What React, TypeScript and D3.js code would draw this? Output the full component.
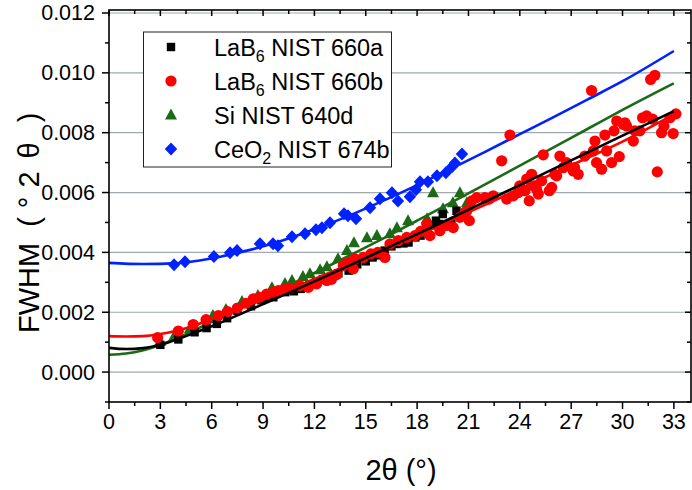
import React from "react";
import * as d3 from "d3";

// ---------- data ----------
const xTicks = [0, 3, 6, 9, 12, 15, 18, 21, 24, 27, 30, 33];
const yTicks = [0, 0.002, 0.004, 0.006, 0.008, 0.01, 0.012];

const seriesNames = ["LaB6 NIST 660a", "LaB6 NIST 660b", "Si NIST 640d", "CeO2 NIST 674b"];

const lab660a: [number, number][] = [
  [3.0, 0.00091], [4.05, 0.00109], [5.0, 0.00133], [5.7, 0.00147], [6.3, 0.00161], [6.9, 0.0018],
  [7.5, 0.00205], [8.3, 0.0022], [8.9, 0.0024], [9.1, 0.00245], [9.6, 0.0025], [10.3, 0.00267],
  [10.8, 0.0027], [11.2, 0.00278], [11.7, 0.0029], [12.1, 0.003], [12.5, 0.0031], [12.9, 0.00317],
  [13.4, 0.0033], [14.0, 0.00339], [14.5, 0.0036], [15.0, 0.0037], [15.4, 0.00383], [15.8, 0.0039],
  [16.1, 0.00406], [16.5, 0.0042], [16.8, 0.00428], [17.2, 0.0043], [17.5, 0.00433], [17.9, 0.0045],
  [18.2, 0.00456], [18.6, 0.00478], [18.9, 0.0049], [19.1, 0.00506], [19.3, 0.00495], [19.5, 0.00528],
  [20.0, 0.00495], [20.3, 0.00539],
];

const lab660b: [number, number][] = [
  [2.84, 0.00115], [4.05, 0.00137], [4.92, 0.00159], [5.67, 0.00175], [6.39, 0.00189], [6.93, 0.00202],
  [7.5, 0.00214], [8.0, 0.0023], [8.43, 0.00245], [8.8, 0.0025], [9.21, 0.00261], [9.6, 0.00268],
  [9.89, 0.00272], [10.2, 0.00276], [10.57, 0.00281], [11.16, 0.00289], [11.64, 0.00283], [12.13, 0.00295],
  [12.72, 0.00306], [13.0, 0.0031], [13.3, 0.00326], [13.69, 0.00356], [13.98, 0.00367], [14.27, 0.00345],
  [14.37, 0.00378], [14.85, 0.00383], [15.3, 0.00395], [15.7, 0.004], [16.12, 0.00383], [16.41, 0.00428],
  [16.9, 0.00439], [17.39, 0.0045], [17.87, 0.00456], [18.2, 0.0047], [18.56, 0.00495], [18.75, 0.00456],
  [19.33, 0.00472], [19.7, 0.0049], [20.11, 0.00483], [20.5, 0.00517], [20.79, 0.00533], [20.9, 0.00539],
  [21.05, 0.00506], [21.19, 0.00572], [21.48, 0.00583], [21.96, 0.00583], [22.2, 0.00578], [22.45, 0.00589],
  [22.94, 0.00706], [23.23, 0.00578], [23.42, 0.00792], [23.62, 0.00589], [23.91, 0.006], [23.99, 0.00622],
  [24.3, 0.00606], [24.4, 0.00645], [24.55, 0.00572], [24.69, 0.00661], [24.82, 0.00622], [24.98, 0.00611],
  [25.08, 0.00595], [25.27, 0.00639], [25.37, 0.00726], [25.72, 0.00606], [25.86, 0.00617], [26.05, 0.00661],
  [26.15, 0.00656], [26.34, 0.00722], [26.54, 0.00683], [26.73, 0.007], [27.12, 0.00672], [27.2, 0.00683],
  [27.41, 0.00661], [27.8, 0.00722], [28.19, 0.00941], [28.29, 0.00739], [28.39, 0.00772], [28.48, 0.007],
  [28.78, 0.00678], [28.97, 0.00792], [29.07, 0.00739], [29.36, 0.007], [29.5, 0.00806], [29.66, 0.00839],
  [29.81, 0.0072], [30.04, 0.00828], [30.14, 0.00833], [30.24, 0.00822], [30.63, 0.00772], [30.72, 0.00806],
  [31.01, 0.00806], [31.17, 0.0085], [31.41, 0.00856], [31.64, 0.00978], [31.76, 0.00845], [31.89, 0.00992],
  [32.03, 0.00669], [32.28, 0.008], [32.42, 0.00822], [32.77, 0.0085], [32.96, 0.00797], [33.12, 0.00863],
];

const si640d: [number, number][] = [
  [2.98, 0.00102], [3.8, 0.00119], [4.73, 0.00146], [6.07, 0.00189], [6.83, 0.00209], [7.77, 0.00236],
  [8.7, 0.00256], [9.52, 0.00282], [10.28, 0.00296], [10.69, 0.00306], [11.33, 0.00319], [11.74, 0.00329],
  [12.33, 0.00342], [12.73, 0.00352], [13.38, 0.00379], [13.9, 0.00406], [14.31, 0.00432], [15.07, 0.00449],
  [15.65, 0.00456], [16.41, 0.00462], [16.82, 0.00482], [17.47, 0.00506], [18.58, 0.00512], [18.93, 0.00599],
  [19.51, 0.00546], [20.09, 0.00566], [20.5, 0.00599], [20.91, 0.00566],
];

const ceo674b: [number, number][] = [
  [3.8, 0.00359], [4.44, 0.00369], [6.13, 0.00386], [7.07, 0.00399], [7.48, 0.00406], [8.82, 0.00429],
  [9.58, 0.00429], [9.87, 0.00422], [10.69, 0.00452], [11.45, 0.00462], [12.09, 0.00476], [12.44, 0.00482],
  [12.91, 0.00499], [13.73, 0.00529], [13.96, 0.00522], [14.43, 0.00512], [15.25, 0.00549], [15.83, 0.00579],
  [16.53, 0.00599], [16.88, 0.00572], [17.58, 0.00586], [17.93, 0.00609], [18.17, 0.00636], [18.63, 0.00636],
  [19.16, 0.00656], [19.68, 0.00666], [20.04, 0.00686], [20.21, 0.00699], [20.62, 0.00729],
];

// fitted curves
const fit660a: [number, number][] = [
  [0, 0.00081], [1, 0.00077], [2, 0.0008], [3, 0.00091], [4, 0.0011], [5, 0.00131], [6, 0.00153],
  [7, 0.00177], [8, 0.00202], [9, 0.00227], [10, 0.00252], [12, 0.00303], [14, 0.00355], [16, 0.00408],
  [18, 0.00461], [20, 0.00515], [22, 0.0057], [24, 0.00625], [26, 0.0068], [28, 0.00735], [30, 0.0079],
  [33, 0.00872],
];
const fit660b: [number, number][] = [
  [0, 0.0012], [1, 0.00119], [2, 0.0012], [3, 0.00127], [4, 0.00139], [5, 0.00156], [6, 0.00177],
  [7, 0.00198], [8, 0.0022], [9, 0.00242], [10, 0.00264], [12, 0.00311], [14, 0.00359], [16, 0.00408],
  [18, 0.00458], [20, 0.00508], [22, 0.0056], [24, 0.00612], [26, 0.00665], [28, 0.00717], [30, 0.0077],
  [33, 0.00861],
];
const fit640d: [number, number][] = [
  [0, 0.00058], [1, 0.00062], [2, 0.00073], [3, 0.00091], [4, 0.00114], [5, 0.0014], [6, 0.00168],
  [7, 0.00196], [8, 0.00223], [9, 0.0025], [10, 0.00276], [12, 0.00331], [14, 0.00388], [16, 0.00446],
  [18, 0.00506], [20, 0.00567], [22, 0.00628], [24, 0.0069], [26, 0.00752], [28, 0.00814], [30, 0.00876],
  [33, 0.00965],
];
const fit674b: [number, number][] = [
  [0, 0.00365], [2, 0.00361], [4, 0.00364], [6, 0.0038], [8, 0.00405], [10, 0.00437], [12, 0.00477],
  [14, 0.00522], [16, 0.00572], [18, 0.00625], [20, 0.0068], [22, 0.00737], [24, 0.00795], [26, 0.00853],
  [28, 0.00912], [30, 0.00972], [33, 0.01073],
];

// ---------- styling ----------
const W = 692;
const H = 490;
const M = { left: 109, right: 691, top: 10, bottom: 402 };
const FONT = "'Liberation Sans', Arial, Helvetica, sans-serif";
const BLACK = "#000000";
const RED = "#ff0000";
const GREEN = "#1c6a17";
const BLUE = "#0022ff";
const GRID = "#9ea8ad";

const x = d3.scaleLinear().domain([0, 34]).range([M.left, M.right]);
const y = d3.scaleLinear().domain([-0.001, 0.0121]).range([M.bottom, M.top]);

const line = d3
  .line<[number, number]>()
  .x((d) => x(d[0]))
  .y((d) => y(d[1]))
  .curve(d3.curveMonotoneX);

const Square = ({ cx, cy, c }: { cx: number; cy: number; c: string }) => (
  <rect x={cx - 4.2} y={cy - 4.2} width={8.4} height={8.4} fill={c} />
);
const Circle = ({ cx, cy, c }: { cx: number; cy: number; c: string }) => (
  <circle cx={cx} cy={cy} r={5.6} fill={c} />
);
const Tri = ({ cx, cy, c }: { cx: number; cy: number; c: string }) => (
  <path d={`M${cx},${cy - 6.5}L${cx + 6},${cy + 4.5}L${cx - 6},${cy + 4.5}Z`} fill={c} />
);
const Diamond = ({ cx, cy, c }: { cx: number; cy: number; c: string }) => (
  <path d={`M${cx},${cy - 6.5}L${cx + 6.2},${cy}L${cx},${cy + 6.5}L${cx - 6.2},${cy}Z`} fill={c} />
);

export default function App() {
  const xMinor = d3.range(1.5, 34, 3);
  const yMinor = d3.range(-1, 12.5, 2).map((v) => v / 1000);

  const legendRows = [
    { M: Square, c: BLACK, main: "LaB", sub: "6", rest: " NIST 660a" },
    { M: Circle, c: RED, main: "LaB", sub: "6", rest: " NIST 660b" },
    { M: Tri, c: GREEN, main: "Si NIST 640d", sub: "", rest: "" },
    { M: Diamond, c: BLUE, main: "CeO", sub: "2", rest: " NIST 674b" },
  ];

  return (
    <svg
      width={W}
      height={H}
      viewBox={`0 0 ${W} ${H}`}
      style={{ position: "absolute", left: 0, top: 0, background: "#fff" }}
      fontFamily={FONT}
    >
      <rect x={0} y={0} width={W} height={H} fill="#fff" />
      <defs>
        <clipPath id="plotclip">
          <rect x={M.left} y={M.top} width={M.right - M.left} height={M.bottom - M.top} />
        </clipPath>
      </defs>

      {/* grid */}
      {yTicks.map((t) => (
        <line key={"g" + t} x1={M.left} x2={M.right} y1={y(t)} y2={y(t)} stroke={GRID} strokeWidth={1.2} />
      ))}

      <g clipPath="url(#plotclip)">
        {ceo674b.map((d, i) => (
          <Diamond key={"d" + i} cx={x(d[0])} cy={y(d[1])} c={BLUE} />
        ))}
        <path d={line(fit674b) || ""} fill="none" stroke={BLUE} strokeWidth={2.6} />
        {si640d.map((d, i) => (
          <Tri key={"t" + i} cx={x(d[0])} cy={y(d[1])} c={GREEN} />
        ))}
        <path d={line(fit640d) || ""} fill="none" stroke={GREEN} strokeWidth={2.6} />
        {lab660a.map((d, i) => (
          <Square key={"s" + i} cx={x(d[0])} cy={y(d[1])} c={BLACK} />
        ))}
        {lab660b.map((d, i) => (
          <Circle key={"c" + i} cx={x(d[0])} cy={y(d[1])} c={RED} />
        ))}
        <path d={line(fit660b) || ""} fill="none" stroke={RED} strokeWidth={2.6} />
        <path d={line(fit660a) || ""} fill="none" stroke={BLACK} strokeWidth={2.6} />
      </g>

      {/* frame */}
      <rect
        x={M.left}
        y={M.top}
        width={M.right - M.left}
        height={M.bottom - M.top}
        fill="none"
        stroke="#000"
        strokeWidth={1.6}
      />

      {/* x ticks bottom (outward) and top (inward) */}
      {xTicks.map((t) => (
        <g key={"xt" + t}>
          <line x1={x(t)} x2={x(t)} y1={M.bottom} y2={M.bottom + 7} stroke="#000" strokeWidth={1.5} />
          <line x1={x(t)} x2={x(t)} y1={M.top} y2={M.top + 6} stroke="#000" strokeWidth={1.5} />
          <text x={x(t)} y={M.bottom + 27} fontSize={21.5} textAnchor="middle" fill="#000">
            {t}
          </text>
        </g>
      ))}
      {xMinor.map((t) => (
        <g key={"xm" + t}>
          <line x1={x(t)} x2={x(t)} y1={M.bottom} y2={M.bottom + 4} stroke="#000" strokeWidth={1.5} />
          <line x1={x(t)} x2={x(t)} y1={M.top} y2={M.top + 4} stroke="#000" strokeWidth={1.5} />
        </g>
      ))}

      {/* y ticks left (outward) and right (inward) */}
      {yTicks.map((t) => (
        <g key={"yt" + t}>
          <line x1={M.left - 7} x2={M.left} y1={y(t)} y2={y(t)} stroke="#000" strokeWidth={1.5} />
          <line x1={M.right - 6} x2={M.right} y1={y(t)} y2={y(t)} stroke="#000" strokeWidth={1.5} />
          <text x={M.left - 14} y={y(t) + 7.5} fontSize={21.5} textAnchor="end" fill="#000">
            {d3.format(".3f")(t)}
          </text>
        </g>
      ))}
      {yMinor.map((t) => (
        <g key={"ym" + t}>
          <line x1={M.left - 4} x2={M.left} y1={y(t)} y2={y(t)} stroke="#000" strokeWidth={1.5} />
          <line x1={M.right - 4} x2={M.right} y1={y(t)} y2={y(t)} stroke="#000" strokeWidth={1.5} />
        </g>
      ))}

      {/* axis titles */}
      <text transform={`translate(39, 333) rotate(-90)`} fontSize={29} textAnchor="start" fill="#000">
        <tspan>FWHM</tspan>
        <tspan dx={16}>(</tspan>
        <tspan dx={9}>°</tspan>
        <tspan dx={9}>2</tspan>
        <tspan dx={13}>θ</tspan>
        <tspan dx={20}>)</tspan>
      </text>
      <text x={401} y={480} fontSize={29} textAnchor="middle" fill="#000">
        2θ (°)
      </text>

      {/* legend */}
      <rect x={143.5} y={32} width={248} height={135} fill="#fff" stroke="#222" strokeWidth={1} />
      {legendRows.map((r, i) => {
        const cy = 47 + i * 34;
        const Mk = r.M;
        return (
          <g key={"l" + i}>
            <Mk cx={171} cy={cy} c={r.c} />
            <text x={214} y={cy + 8.5} fontSize={23.5} fill="#000">
              {r.main}
              {r.sub ? (
                <tspan fontSize={16} dy={6}>
                  {r.sub}
                </tspan>
              ) : null}
              {r.rest ? <tspan dy={r.sub ? -6 : 0}>{r.rest}</tspan> : null}
            </text>
          </g>
        );
      })}
    </svg>
  );
}
